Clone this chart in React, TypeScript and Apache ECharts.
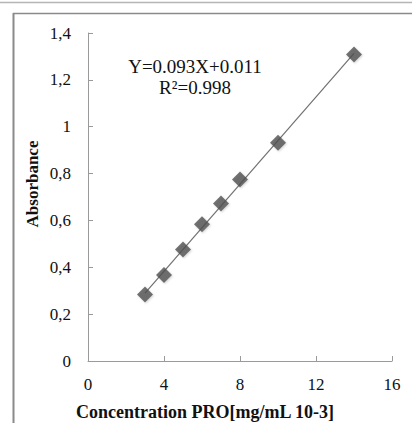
import React, { useEffect, useRef } from "react";
import * as echarts from "echarts";

const concentration = [3, 4, 5, 6, 7, 8, 10, 14];
const absorbance = [0.284, 0.367, 0.476, 0.584, 0.672, 0.775, 0.932, 1.308];
const trendX = [3, 14];
const trendY = [0.29, 1.313];
const xTicks = [0, 4, 8, 12, 16];
const yTicks = [0, 0.2, 0.4, 0.6, 0.8, 1, 1.2, 1.4];
const equationText = "Y=0.093X+0.011";
const r2Text = "R²=0.998";
const xTitle = "Concentration PRO[mg/mL 10-3]";
const yTitle = "Absorbance";

const FONT = "'Liberation Serif', 'Times New Roman', serif";

export default function App() {
  const ref = useRef<HTMLDivElement>(null);
  useEffect(() => {
    if (!ref.current) return;
    const chart = echarts.init(ref.current, null, { renderer: "svg" });
    chart.setOption({
      animation: false,
      backgroundColor: "#ffffff",
      grid: { left: 88, right: 20, top: 33, bottom: 62, containLabel: false },
      xAxis: {
        type: "value",
        min: xTicks[0],
        max: xTicks[xTicks.length - 1],
        interval: xTicks[1] - xTicks[0],
        axisLine: { show: true, lineStyle: { color: "#9a9a9a", width: 1 } },
        axisTick: { show: true, inside: true, length: 5, lineStyle: { color: "#9a9a9a" } },
        splitLine: { show: false },
        axisLabel: { margin: 15, fontFamily: FONT, fontSize: 17, color: "#111" },
      },
      yAxis: {
        type: "value",
        min: yTicks[0],
        max: yTicks[yTicks.length - 1],
        interval: 0.2,
        axisLine: { show: true, lineStyle: { color: "#9a9a9a", width: 1 } },
        axisTick: { show: true, inside: true, length: 5, lineStyle: { color: "#9a9a9a" } },
        splitLine: { show: false },
        axisLabel: {
          margin: 17,
          fontFamily: FONT,
          fontSize: 17,
          color: "#111",
          formatter: (v: number) => String(Math.round(v * 10) / 10).replace(".", ","),
        },
      },
      series: [
        {
          type: "line",
          data: trendX.map((x, i) => [x, trendY[i]]),
          symbol: "none",
          lineStyle: { color: "#707070", width: 1.2 },
          z: 1,
        },
        {
          type: "scatter",
          data: concentration.map((x, i) => [x, absorbance[i]]),
          symbol: "diamond",
          symbolSize: 16,
          itemStyle: { color: "#4f4f4f", shadowColor: "rgba(0,0,0,0.2)", shadowBlur: 2, shadowOffsetX: 1, shadowOffsetY: 1 },
          z: 2,
        },
      ],
      graphic: [
        { type: "line", shape: { x1: 0, y1: 2.5, x2: 412, y2: 2.5 }, style: { stroke: "#b5b5b5", lineWidth: 1.5 } },
        { type: "line", shape: { x1: 13, y1: 13.5, x2: 412, y2: 13.5 }, style: { stroke: "#8a8a8a", lineWidth: 1.5 } },
        { type: "line", shape: { x1: 13.5, y1: 13, x2: 13.5, y2: 423 }, style: { stroke: "#8a8a8a", lineWidth: 2 } },
        {
          type: "text",
          x: 195,
          y: 66,
          style: { text: equationText, font: `19px ${FONT}`, fill: "#111", align: "center", verticalAlign: "middle" },
        },
        {
          type: "text",
          x: 195,
          y: 87,
          style: { text: r2Text, font: `19px ${FONT}`, fill: "#111", align: "center", verticalAlign: "middle" },
        },
        {
          type: "text",
          x: 205,
          y: 412,
          style: { text: xTitle, font: `bold 18px ${FONT}`, fill: "#111", align: "center", verticalAlign: "middle" },
        },
        {
          type: "text",
          x: 32,
          y: 184,
          rotation: Math.PI / 2,
          style: { text: yTitle, font: `bold 17px ${FONT}`, fill: "#111", align: "center", verticalAlign: "middle" },
        },
      ],
    });
    return () => chart.dispose();
  }, []);
  return <div ref={ref} style={{ position: "absolute", left: 0, top: 0, width: 412, height: 423 }} />;
}
